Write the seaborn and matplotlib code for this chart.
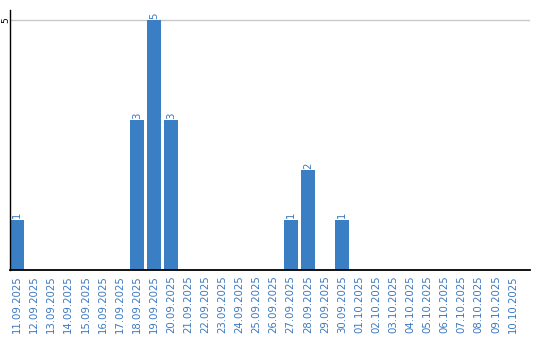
import matplotlib
matplotlib.use("Agg")
import matplotlib.pyplot as plt
import seaborn as sns
import pandas as pd

dates = ["11.09.2025", "12.09.2025", "13.09.2025", "14.09.2025", "15.09.2025",
         "16.09.2025", "17.09.2025", "18.09.2025", "19.09.2025", "20.09.2025",
         "21.09.2025", "22.09.2025", "23.09.2025", "24.09.2025", "25.09.2025",
         "26.09.2025", "27.09.2025", "28.09.2025", "29.09.2025", "30.09.2025",
         "01.10.2025", "02.10.2025", "03.10.2025", "04.10.2025", "05.10.2025",
         "06.10.2025", "07.10.2025", "08.10.2025", "09.10.2025", "10.10.2025"]
counts = [1, 0, 0, 0, 0, 0, 0, 3, 5, 3,
          0, 0, 0, 0, 0, 0, 1, 2, 0, 1,
          0, 0, 0, 0, 0, 0, 0, 0, 0, 0]
y_ticks = [5]

blue = "#3a7ec4"
label_blue = "#3a78c0"

sns.set_style("white")
plt.rcParams['font.family'] = ['DejaVu Sans']

df = pd.DataFrame({"date": dates, "count": counts})

fig = plt.figure(figsize=(5.4, 3.4), dpi=100)
ax = fig.add_axes([10 / 540, 70 / 340, 520 / 540, 260 / 340])

sns.barplot(data=df, x="date", y="count", color=blue, saturation=1,
            width=0.82, ax=ax, order=dates, linewidth=0, edgecolor=blue)

ax.set_xlim(-0.41, 29.99)
ax.set_ylim(0, 5.2)
ax.set_xlabel("")
ax.set_ylabel("")

for i, v in enumerate(counts):
    if v > 0:
        ax.text(i, v + 0.03, str(v), rotation=90, ha="center", va="bottom",
                color=label_blue, fontsize=7.3)

ax.set_yticks(y_ticks)
ax.set_yticklabels([str(t) for t in y_ticks], rotation=90, va="center",
                   ha="center", fontsize=6.5, color="black")
ax.tick_params(axis="y", length=0, pad=3.3)
ax.tick_params(axis="x", length=0, pad=4)
for lbl in ax.get_xticklabels():
    lbl.set_rotation(90)
    lbl.set_color(label_blue)
    lbl.set_fontsize(7.3)

ax.yaxis.grid(True, color="#c8c8c8", linewidth=1)
ax.set_axisbelow(True)

for s in ["top", "right"]:
    ax.spines[s].set_visible(False)
ax.spines["left"].set_color("black")
ax.spines["left"].set_linewidth(1)
ax.spines["bottom"].set_color("black")
ax.spines["bottom"].set_linewidth(1.3)

fig.savefig("out.png", dpi=100)
